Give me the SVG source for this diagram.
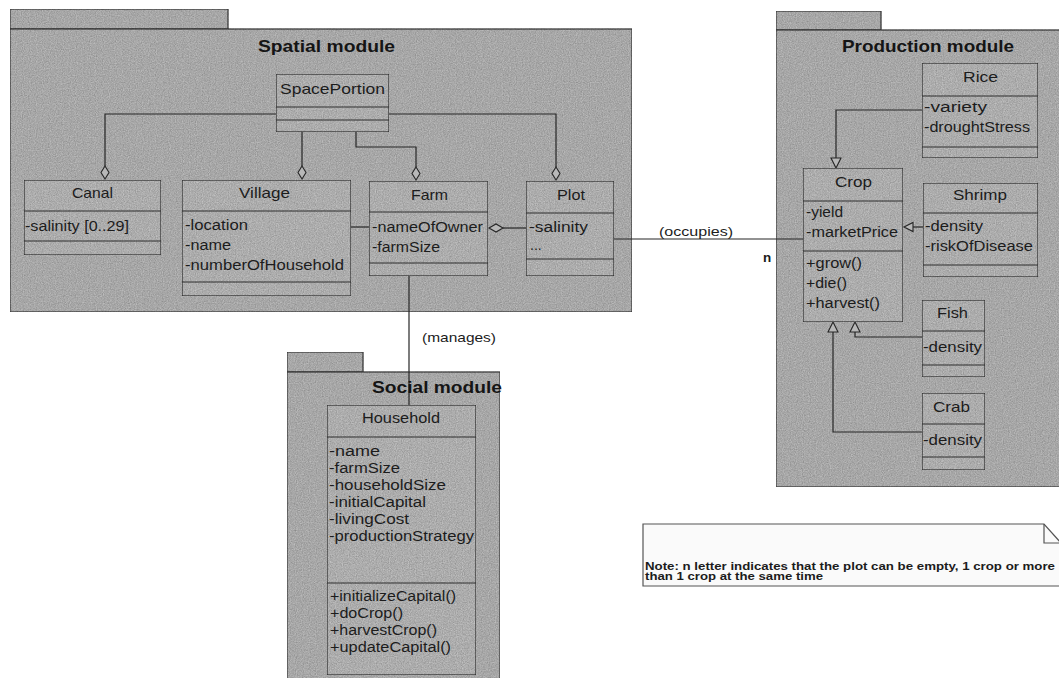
<svg xmlns="http://www.w3.org/2000/svg" width="1059" height="678" viewBox="0 0 1059 678">
  <style>
    .pkg { fill: #bdbdbd; stroke: #3a3a3a; stroke-width: 1.2; }
    .cls { fill: #c3c3c3; stroke: #2e2e2e; stroke-width: 1.2; }
    .sep { stroke: #2e2e2e; stroke-width: 1; fill: none; }
    .t { font-family: "Liberation Sans", Arial, sans-serif; font-size: 14px; fill: #1c1c1c; }
    .nm { font-size: 14.5px; }
    .title { font-size: 17px; font-weight: bold; fill: #151515; }
    .lbl { font-size: 13.5px; }
    .note { font-size: 10.5px; font-weight: bold; }
    .conn { fill: none; stroke: #262626; stroke-width: 1.2; }
    .hollow { fill: #b8b8b8; stroke: #262626; stroke-width: 1.1; }
  </style>
  <defs>
    <!-- paper grain applied to the shaded shapes -->
    <filter id="grain" x="0" y="0" width="100%" height="100%" color-interpolation-filters="sRGB">
      <feTurbulence type="fractalNoise" baseFrequency="0.85" numOctaves="2" seed="7" result="noise"/>
      <feColorMatrix in="noise" type="saturate" values="0" result="gray"/>
      <feComponentTransfer in="gray" result="tone">
        <feFuncR type="linear" slope="0.45" intercept="0.66"/>
        <feFuncG type="linear" slope="0.45" intercept="0.66"/>
        <feFuncB type="linear" slope="0.45" intercept="0.66"/>
        <feFuncA type="linear" slope="0" intercept="1"/>
      </feComponentTransfer>
      <feComposite in="tone" in2="SourceAlpha" operator="in" result="clipped"/>
      <feBlend in="SourceGraphic" in2="clipped" mode="multiply"/>
    </filter>
  </defs>

  <rect width="1059" height="678" fill="#ffffff"/>

  <!-- packages -->
  <g id="pkg-spatial" filter="url(#grain)">
    <rect class="pkg" x="10" y="9" width="218" height="20"/>
    <rect class="pkg" x="10" y="29" width="622" height="283"/>
  </g>
  <g id="pkg-production" filter="url(#grain)">
    <rect class="pkg" x="776" y="11" width="105" height="19"/>
    <rect class="pkg" x="776" y="30" width="290" height="457"/>
  </g>
  <g id="pkg-social" filter="url(#grain)">
    <rect class="pkg" x="287" y="352" width="76" height="20"/>
    <rect class="pkg" x="287" y="372" width="213" height="312"/>
  </g>

  <g id="pkg-titles">
    <text class="t title" x="258" y="52" textLength="137" lengthAdjust="spacingAndGlyphs">Spatial module</text>
    <text class="t title" x="842" y="52" textLength="172" lengthAdjust="spacingAndGlyphs">Production module</text>
  </g>

  <!-- connectors -->
  <g id="connectors">
    <!-- SpacePortion aggregations -->
    <polyline class="conn" points="276,114 105,114 105,166"/>
    <polygon class="hollow" points="105,166 109,172.5 105,179 101,172.5"/>
    <polyline class="conn" points="302,132 302,166"/>
    <polygon class="hollow" points="302,166 306,172.5 302,179 298,172.5"/>
    <polyline class="conn" points="356,132 356,147 416,147 416,167"/>
    <polygon class="hollow" points="416,167 420,173.5 416,180 412,173.5"/>
    <polyline class="conn" points="389,114 556,114 556,167"/>
    <polygon class="hollow" points="556,167 560,173.5 556,180 552,173.5"/>
    <!-- Village - Farm -->
    <line class="conn" x1="351" y1="227" x2="369" y2="227"/>
    <!-- Farm <>- Plot -->
    <line class="conn" x1="503" y1="228" x2="526" y2="228"/>
    <polygon class="hollow" points="489,228 496,224 503,228 496,232"/>
    <!-- Plot - Crop (occupies) -->
    <line class="conn" x1="614" y1="239" x2="803" y2="239"/>
    <!-- Farm - Household (manages) -->
    <line class="conn" x1="409" y1="276" x2="409" y2="405"/>
    <!-- generalizations to Crop -->
    <polyline class="conn" points="922,110 836,110 836,158"/>
    <polygon class="hollow" points="836,168 831,158 841,158"/>
    <line class="conn" x1="913" y1="227" x2="923" y2="227"/>
    <polygon class="hollow" points="904,227 913,222.5 913,231.5"/>
    <polyline class="conn" points="922,337 855,337 855,332"/>
    <polygon class="hollow" points="855,322 850,332 860,332"/>
    <polyline class="conn" points="922,432 833,432 833,332"/>
    <polygon class="hollow" points="833,322 828,332 838,332"/>
  </g>

  <g id="connector-labels">
    <text class="t lbl" x="659" y="236" textLength="74" lengthAdjust="spacingAndGlyphs">(occupies)</text>
    <text class="t lbl" x="763" y="262" font-weight="bold">n</text>
    <text class="t lbl" x="422" y="342" textLength="74" lengthAdjust="spacingAndGlyphs">(manages)</text>
  </g>

  <!-- Spatial module classes -->
  <g id="SpacePortion">
    <rect class="cls" x="276" y="74" width="113" height="58" filter="url(#grain)"/>
    <line class="sep" x1="276" y1="107" x2="389" y2="107"/>
    <line class="sep" x1="276" y1="120" x2="389" y2="120"/>
    <text class="t nm" x="280" y="94" textLength="105" lengthAdjust="spacingAndGlyphs">SpacePortion</text>
  </g>
  <g id="Canal">
    <rect class="cls" x="24" y="180" width="137" height="75" filter="url(#grain)"/>
    <line class="sep" x1="24" y1="211" x2="161" y2="211"/>
    <line class="sep" x1="24" y1="241" x2="161" y2="241"/>
    <text class="t nm" x="72" y="198" textLength="41" lengthAdjust="spacingAndGlyphs">Canal</text>
    <text class="t" x="25" y="231" textLength="104" lengthAdjust="spacingAndGlyphs">-salinity [0..29]</text>
  </g>
  <g id="Village">
    <rect class="cls" x="182" y="180" width="169" height="116" filter="url(#grain)"/>
    <line class="sep" x1="182" y1="211" x2="351" y2="211"/>
    <line class="sep" x1="182" y1="282" x2="351" y2="282"/>
    <text class="t nm" x="239" y="198" textLength="51" lengthAdjust="spacingAndGlyphs">Village</text>
    <text class="t" x="185" y="230" textLength="63" lengthAdjust="spacingAndGlyphs">-location</text>
    <text class="t" x="185" y="250" textLength="46" lengthAdjust="spacingAndGlyphs">-name</text>
    <text class="t" x="185" y="270" textLength="159" lengthAdjust="spacingAndGlyphs">-numberOfHousehold</text>
  </g>
  <g id="Farm">
    <rect class="cls" x="369" y="181" width="119" height="95" filter="url(#grain)"/>
    <line class="sep" x1="369" y1="212" x2="488" y2="212"/>
    <line class="sep" x1="369" y1="263" x2="488" y2="263"/>
    <text class="t nm" x="411" y="200" textLength="37" lengthAdjust="spacingAndGlyphs">Farm</text>
    <text class="t" x="372" y="232" textLength="111" lengthAdjust="spacingAndGlyphs">-nameOfOwner</text>
    <text class="t" x="372" y="252" textLength="68" lengthAdjust="spacingAndGlyphs">-farmSize</text>
  </g>
  <g id="Plot">
    <rect class="cls" x="526" y="181" width="88" height="95" filter="url(#grain)"/>
    <line class="sep" x1="526" y1="213" x2="614" y2="213"/>
    <line class="sep" x1="526" y1="259" x2="614" y2="259"/>
    <text class="t nm" x="557" y="200" textLength="28" lengthAdjust="spacingAndGlyphs">Plot</text>
    <text class="t" x="529" y="232" textLength="59" lengthAdjust="spacingAndGlyphs">-salinity</text>
    <text class="t" x="530" y="250">...</text>
  </g>

  <!-- Production module classes -->
  <g id="Rice">
    <rect class="cls" x="922" y="63" width="116" height="95" filter="url(#grain)"/>
    <line class="sep" x1="922" y1="96" x2="1038" y2="96"/>
    <line class="sep" x1="922" y1="147" x2="1038" y2="147"/>
    <text class="t nm" x="963" y="82" textLength="35" lengthAdjust="spacingAndGlyphs">Rice</text>
    <text class="t" x="924" y="112" textLength="63" lengthAdjust="spacingAndGlyphs">-variety</text>
    <text class="t" x="924" y="132" textLength="106" lengthAdjust="spacingAndGlyphs">-droughtStress</text>
  </g>
  <g id="Crop">
    <rect class="cls" x="803" y="168" width="100" height="154" filter="url(#grain)"/>
    <line class="sep" x1="803" y1="201" x2="903" y2="201"/>
    <line class="sep" x1="803" y1="251" x2="903" y2="251"/>
    <text class="t nm" x="835" y="187" textLength="37" lengthAdjust="spacingAndGlyphs">Crop</text>
    <text class="t" x="806" y="217" textLength="37" lengthAdjust="spacingAndGlyphs">-yield</text>
    <text class="t" x="806" y="237" textLength="92" lengthAdjust="spacingAndGlyphs">-marketPrice</text>
    <text class="t" x="806" y="268" textLength="56" lengthAdjust="spacingAndGlyphs">+grow()</text>
    <text class="t" x="806" y="288" textLength="41" lengthAdjust="spacingAndGlyphs">+die()</text>
    <text class="t" x="806" y="308" textLength="74" lengthAdjust="spacingAndGlyphs">+harvest()</text>
  </g>
  <g id="Shrimp">
    <rect class="cls" x="923" y="183" width="115" height="94" filter="url(#grain)"/>
    <line class="sep" x1="923" y1="213" x2="1038" y2="213"/>
    <line class="sep" x1="923" y1="265" x2="1038" y2="265"/>
    <text class="t nm" x="953" y="200" textLength="54" lengthAdjust="spacingAndGlyphs">Shrimp</text>
    <text class="t" x="925" y="231" textLength="58" lengthAdjust="spacingAndGlyphs">-density</text>
    <text class="t" x="925" y="251" textLength="108" lengthAdjust="spacingAndGlyphs">-riskOfDisease</text>
  </g>
  <g id="Fish">
    <rect class="cls" x="922" y="300" width="63" height="77" filter="url(#grain)"/>
    <line class="sep" x1="922" y1="331" x2="985" y2="331"/>
    <line class="sep" x1="922" y1="365" x2="985" y2="365"/>
    <text class="t nm" x="937" y="318" textLength="31" lengthAdjust="spacingAndGlyphs">Fish</text>
    <text class="t" x="923" y="352" textLength="59" lengthAdjust="spacingAndGlyphs">-density</text>
  </g>
  <g id="Crab">
    <rect class="cls" x="922" y="393" width="63" height="77" filter="url(#grain)"/>
    <line class="sep" x1="922" y1="424" x2="985" y2="424"/>
    <line class="sep" x1="922" y1="457" x2="985" y2="457"/>
    <text class="t nm" x="933" y="412" textLength="37" lengthAdjust="spacingAndGlyphs">Crab</text>
    <text class="t" x="923" y="445" textLength="59" lengthAdjust="spacingAndGlyphs">-density</text>
  </g>

  <!-- Social module class -->
  <g id="Household">
    <rect class="cls" x="327" y="405" width="149" height="270" filter="url(#grain)"/>
    <line class="sep" x1="327" y1="437" x2="476" y2="437"/>
    <line class="sep" x1="327" y1="583" x2="476" y2="583"/>
    <text class="t nm" x="362" y="423" textLength="78" lengthAdjust="spacingAndGlyphs">Household</text>
    <text class="t" x="329" y="456" textLength="51" lengthAdjust="spacingAndGlyphs">-name</text>
    <text class="t" x="329" y="473" textLength="71" lengthAdjust="spacingAndGlyphs">-farmSize</text>
    <text class="t" x="329" y="490" textLength="117" lengthAdjust="spacingAndGlyphs">-householdSize</text>
    <text class="t" x="329" y="507" textLength="97" lengthAdjust="spacingAndGlyphs">-initialCapital</text>
    <text class="t" x="329" y="524" textLength="80" lengthAdjust="spacingAndGlyphs">-livingCost</text>
    <text class="t" x="329" y="541" textLength="145" lengthAdjust="spacingAndGlyphs">-productionStrategy</text>
    <text class="t" x="330" y="601" textLength="126" lengthAdjust="spacingAndGlyphs">+initializeCapital()</text>
    <text class="t" x="330" y="618" textLength="73" lengthAdjust="spacingAndGlyphs">+doCrop()</text>
    <text class="t" x="330" y="635" textLength="107" lengthAdjust="spacingAndGlyphs">+harvestCrop()</text>
    <text class="t" x="330" y="652" textLength="121" lengthAdjust="spacingAndGlyphs">+updateCapital()</text>
  </g>
  <g id="pkg-social-title">
    <text class="t title" x="372" y="393" textLength="130" lengthAdjust="spacingAndGlyphs">Social module</text>
  </g>

  <!-- note -->
  <g id="note">
    <path d="M643,524 H1044 L1061,543 V586 H643 Z" fill="#fafafa" stroke="#555" stroke-width="1.2"/>
    <path d="M1044,524 V543 H1061" fill="none" stroke="#555" stroke-width="1.2"/>
    <text class="t note" x="645" y="570" textLength="410" lengthAdjust="spacingAndGlyphs">Note: n letter indicates that the plot can be empty, 1 crop or more</text>
    <text class="t note" x="645" y="580" textLength="178" lengthAdjust="spacingAndGlyphs">than 1 crop at the same time</text>
  </g>
</svg>
